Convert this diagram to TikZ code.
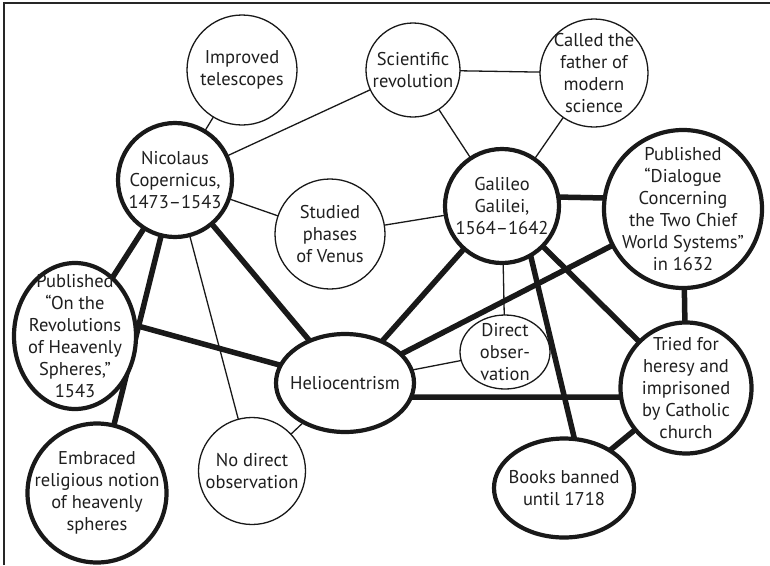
\documentclass[tikz,border=0pt]{standalone}
\usepackage{fontspec}
\setmainfont{PT Sans}
\usetikzlibrary{shapes.geometric}
\begin{document}
\begin{tikzpicture}[x=1pt,y=-1pt,
  txt/.style={font=\fontsize{18.5}{22}\selectfont, align=center, inner sep=0pt, text=black!88},
  thinnode/.style={draw=black!90, line width=1.3pt, inner sep=0pt, fill=white},
  thicknode/.style={draw=black!90, line width=4.2pt, inner sep=0pt, fill=white},
  cnode/.style={circle},
  enode/.style={ellipse},
  thinedge/.style={line width=1.3pt, draw=black!90},
  thickedge/.style={line width=5.5pt, draw=black!90},
  frame/.style={line width=2pt, draw=black!85}
]
\useasboundingbox (0,0) rectangle (770,565);
\draw[frame] (4,565) -- (4,3) -- (770,3);

% named places of the nodes (outlines are drawn on top of the connectors)
\node[cnode, minimum size=110] (tel) at (242,70) {};
\node[cnode, minimum size=94] (sci) at (413,70) {};
\node[cnode, minimum size=108] (fat) at (594,73) {};
\node[cnode, minimum size=114] (cop) at (175,180) {};
\node[cnode, minimum size=110] (ven) at (330,234) {};
\node[cnode, minimum size=114] (gal) at (502,206) {};
\node[cnode, minimum size=158] (dia) at (683,209) {};
\node[enode, minimum width=122, minimum height=146] (rev) at (75,336) {};
\node[cnode, minimum size=139] (emb) at (97,493) {};
\node[enode, minimum width=138, minimum height=98] (hel) at (345,383) {};
\node[cnode, minimum size=107] (nod) at (252,471) {};
\node[enode, minimum width=90, minimum height=74] (dir) at (505,352) {};
\node[cnode, minimum size=131] (tri) at (686,388) {};
\node[enode, minimum width=140, minimum height=99] (boo) at (564,488) {};

\begin{scope}[thinedge]
\draw (tel) -- (cop);
\draw (sci) -- (cop);
\draw (sci) -- (fat);
\draw (sci) -- (gal);
\draw (fat) -- (gal);
\draw (cop) -- (ven);
\draw (ven) -- (gal);
\draw (cop) -- (nod);
\draw (nod) -- (hel);
\draw (gal) -- (dir);
\draw (dir) -- (hel);
\end{scope}
\begin{scope}[thickedge]
\draw (cop) -- (rev);
\draw (cop) -- (emb);
\draw (cop) -- (hel);
\draw (rev.10) -- (hel);
\draw (gal) -- (hel);
\draw (gal.9) -- (dia.172);
\draw (gal.-60) -- (boo.78);
\draw (gal) -- (tri);
\draw (dia) -- (hel);
\draw (dia) -- (tri);
\draw (hel.-12) -- (tri.188);
\draw (boo) -- (tri);
\end{scope}

% node outlines and texts
\node[thinnode, cnode, minimum size=110, label={[txt]center:Improved\\telescopes}] at (tel) {};
\node[thinnode, cnode, minimum size=94, label={[txt]center:Scientific\\revolution}] at (sci) {};
\node[thinnode, cnode, minimum size=108, label={[txt]center:Called the\\father of\\modern\\science}] at (fat) {};
\node[thicknode, cnode, minimum size=114, label={[txt]center:Nicolaus\\Copernicus,\\1473--1543}] at (cop) {};
\node[thinnode, cnode, minimum size=110, label={[txt]center:Studied\\phases\\of Venus}] at (ven) {};
\node[thicknode, cnode, minimum size=114, label={[txt]center:Galileo\\Galilei,\\1564--1642}] at (gal) {};
\node[thicknode, cnode, minimum size=158, label={[txt]center:Published\\“Dialogue\\Concerning\\the Two Chief\\World Systems”\\in 1632}] at (dia) {};
\node[thicknode, enode, minimum width=122, minimum height=146, label={[txt]center:Published\\“On the\\Revolutions\\of Heavenly\\Spheres,”\\1543}] at (rev) {};
\node[thicknode, cnode, minimum size=139, label={[txt]center:Embraced\\religious notion\\of heavenly\\spheres}] at (emb) {};
\node[thicknode, enode, minimum width=138, minimum height=98, label={[txt]center:Heliocentrism}] at (hel) {};
\node[thinnode, cnode, minimum size=107, label={[txt]center:No direct\\observation}] at (nod) {};
\node[thinnode, enode, minimum width=90, minimum height=74, label={[txt]center:Direct\\obser-\\vation}] at (dir) {};
\node[thicknode, cnode, minimum size=131, label={[txt]center:Tried for\\heresy and\\imprisoned\\by Catholic\\church}] at (tri) {};
\node[thicknode, enode, minimum width=140, minimum height=99, label={[txt]center:Books banned\\until 1718}] at (boo) {};
\end{tikzpicture}
\end{document}
